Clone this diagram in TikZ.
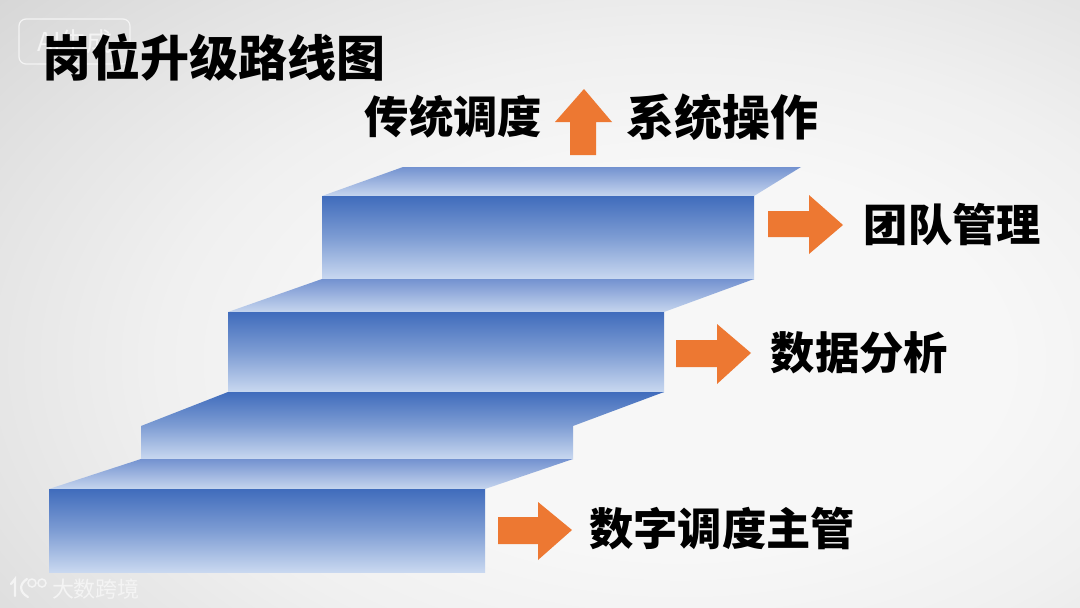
\documentclass[tikz,border=0pt]{standalone}
\usepackage{fontspec}
\newfontfamily\cjkblack{Noto Sans CJK SC Black}
\newfontfamily\cjkbold{Noto Sans CJK SC Bold}
\newfontfamily\cjkreg{Noto Sans CJK SC}
\definecolor{arrowor}{HTML}{ED7832}
\definecolor{frontA}{HTML}{406CBC}
\definecolor{frontB}{HTML}{C9D8F0}
\definecolor{topA}{HTML}{7392D0}
\definecolor{topB}{HTML}{C6D5EE}
\definecolor{bgA}{HTML}{F7F7F7}
\definecolor{bgB}{HTML}{F0F0F0}
\definecolor{bgC}{HTML}{E4E4E4}
\definecolor{bgD}{HTML}{D7D7D7}
\definecolor{markw}{HTML}{F4F4F4}
\pgfdeclareradialshading{bgrad}{\pgfpoint{0bp}{0bp}}{
  color(0bp)=(bgA);
  color(7.5bp)=(bgA);
  color(12bp)=(bgB);
  color(16.5bp)=(bgC);
  color(21bp)=(bgD);
  color(50bp)=(bgD)}
\tikzset{
  frontface/.style={top color=frontA,bottom color=frontB,middle color=frontA!55!frontB,shading angle=0},
  topface/.style={top color=topA,bottom color=topB},
  orarrow/.style={fill=arrowor,draw=none},
  lab/.style={inner sep=0pt,font=\fontsize{44.3}{44.3}\cjkblack,text=black},
  markline/.style={draw=markw,line cap=round}
}
\begin{document}
\begin{tikzpicture}[x=1pt,y=-1pt]
\useasboundingbox (0,0) rectangle (1080,608);
\begin{scope}
\clip (0,0) rectangle (1080,608);
\shade[shading=bgrad] (-400,-290) rectangle (1760,1010);
\end{scope}
% steps
\shade[topface] (403,167)--(801,167)--(754,196)--(322,196)--cycle;
\shade[frontface] (322,196) rectangle (754,279);
\shade[topface] (322,279)--(754,279)--(664,312)--(228,312)--cycle;
\shade[frontface] (228,312) rectangle (664,392);
\shade[frontface] (228,392)--(664,392)--(573,426)--(573,459)--(141,459)--(141,426)--cycle;
\shade[topface] (141,459)--(573,459)--(485,489)--(49,489)--cycle;
\shade[frontface] (49,489) rectangle (485,572);
% arrows
\fill[orarrow] (584,89)--(612,122)--(596,122)--(596,155)--(570,155)--(570,122)--(555,122)--cycle;
\fill[orarrow] (768,211)--(809,211)--(809,195)--(843,225)--(809,254)--(809,237)--(768,237)--cycle;
\fill[orarrow] (676,340)--(717,340)--(717,324)--(751,353)--(717,384)--(717,367)--(676,367)--cycle;
\fill[orarrow] (498,517)--(538,517)--(538,502)--(572,530)--(538,560)--(538,544)--(498,544)--cycle;
% watermark box
\draw[markw,line width=1.2pt,rounded corners=7pt] (19,19) rectangle (130,64);
\node[inner sep=0pt,text=markw,font=\fontsize{26}{26}\cjkreg] (wm) at (75,42) {AI生成};
% labels
\node[lab,font=\fontsize{49}{49}\cjkblack] (title) at (214,58) {岗位升级路线图};
\node[lab] (a) at (453.5,117) {传统调度};
\node[lab,font=\fontsize{48}{48}\cjkblack] (b) at (722,117) {系统操作};
\node[lab] (c) at (952.5,225) {团队管理};
\node[lab] (d) at (859.5,353) {数据分析};
\node[lab] (e) at (722,529) {数字调度主管};
% footer logo + text
\draw[markline,line width=2.2pt] (11,584)--(15,579)--(15,596);
\draw[markline,line width=2.2pt] (27,579) .. controls (19,584) and (19,592) .. (28,597);
\draw[markw,line width=1.5pt] (32,583) circle (4);
\draw[markw,line width=1.5pt] (42,583) circle (4);
\node[inner sep=0pt,text=markw,font=\fontsize{22}{22}\cjkreg] (brand) at (96,589) {大数跨境};
\end{tikzpicture}
\end{document}
